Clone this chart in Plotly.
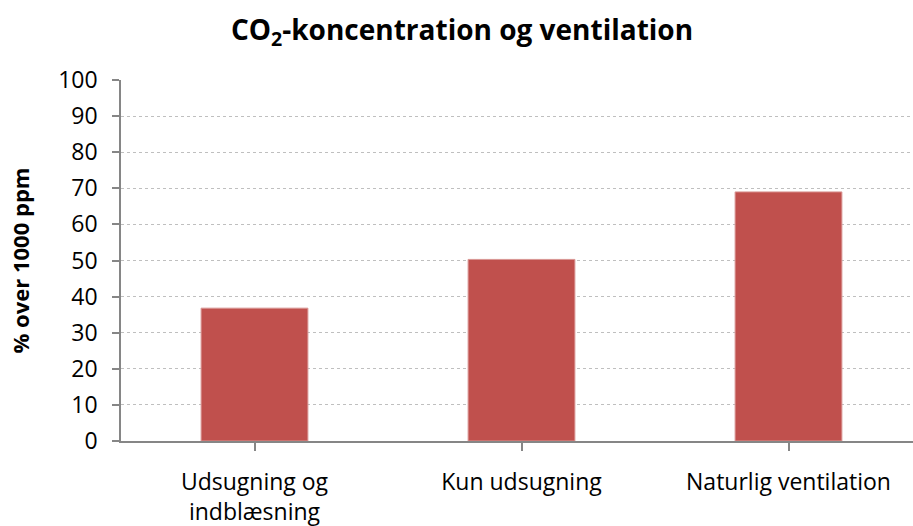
import plotly.graph_objects as go

categories = ["Udsugning og<br>indblæsning", "Kun udsugning", "Naturlig ventilation"]
values = [36.8, 50.3, 69.0]
y_ticks = list(range(0, 101, 10))

FONT = "Open Sans"

fig = go.Figure(go.Bar(
    x=list(range(len(categories))),
    y=values,
    width=0.4,
    marker=dict(color="#C0504D", line=dict(color="#D99694", width=1)),
))

fig.update_layout(
    width=913, height=526,
    margin=dict(l=121, r=0, t=80, b=85, autoexpand=False),
    paper_bgcolor="#ffffff", plot_bgcolor="#ffffff",
    showlegend=False,
    font=dict(family=FONT, color="#000000"),
    title=dict(
        text="<b>CO<sub>2</sub>-koncentration og ventilation</b>",
        x=462 / 913, xanchor="center", y=1 - 30 / 526, yanchor="middle",
        font=dict(family=FONT, size=28, color="#000000"),
    ),
)

fig.update_xaxes(
    automargin=False,
    tickmode="array",
    tickvals=list(range(len(categories))),
    ticktext=categories,
    range=[-0.5, 2.5 - 9 / 267],
    showline=True, linecolor="#868686", linewidth=1.5,
    ticks="outside", ticklen=8, tickcolor="#868686", tickwidth=1.5,
    tickson="boundaries",
    ticklabelstandoff=12,
    showgrid=False,
    tickfont=dict(family=FONT, size=23, color="#000000"),
)

fig.update_yaxes(
    automargin=False,
    range=[0, 100],
    tickvals=y_ticks,
    showline=True, linecolor="#868686", linewidth=1.5,
    ticks="outside", ticklen=7, tickcolor="#868686", tickwidth=1.5,
    ticklabelstandoff=10,
    showgrid=True, gridcolor="#BFBFBF", griddash="dot", gridwidth=1,
    zeroline=False,
    tickfont=dict(family=FONT, size=23, color="#000000"),
    title=dict(text="<b>% over 1000 ppm</b>", font=dict(family=FONT, size=22, color="#000000"), standoff=22),
)

# the page body has a default 8px margin; drop it so the figure sits at 0,0
fig.write_html("out.html", config={"displayModeBar": False},
               post_script="document.body.style.margin='0';")
